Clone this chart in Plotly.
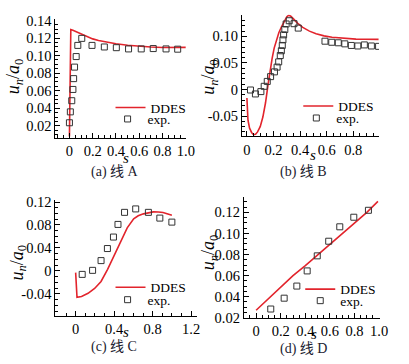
import plotly.graph_objects as go

# ---------------- data ----------------
# Panel (a)
a_ddes_s = [0, 0.004, 0.008, 0.012, 0.03, 0.06, 0.1, 0.15, 0.2, 0.25, 0.3, 0.4, 0.5, 0.6, 0.7, 0.8, 0.9, 1.0]
a_ddes_u = [0.008, 0.07, 0.126, 0.1295, 0.1288, 0.127, 0.1245, 0.1215, 0.119, 0.1172, 0.1158, 0.1135, 0.1118, 0.1105, 0.1097, 0.1092, 0.109, 0.1093]
a_exp_s = [0.0, 0.008, 0.02, 0.03, 0.036, 0.044, 0.058, 0.072, 0.106, 0.194, 0.30, 0.403, 0.508, 0.617, 0.72, 0.83, 0.93]
a_exp_u = [0.0236, 0.036, 0.0487, 0.0615, 0.0738, 0.0869, 0.0989, 0.1116, 0.1196, 0.1116, 0.1098, 0.109, 0.1076, 0.1076, 0.108, 0.1076, 0.1073]

# Panel (b)
b_ddes_s = [0, 0.003, 0.008, 0.02, 0.035, 0.05, 0.065, 0.08, 0.10, 0.12, 0.14, 0.16, 0.175, 0.19, 0.205, 0.22, 0.24, 0.26, 0.28, 0.30, 0.315, 0.33, 0.35, 0.38, 0.42, 0.47, 0.52, 0.58, 0.64, 0.70, 0.76, 0.82, 0.88, 0.94, 0.99]
b_ddes_u = [-0.016, -0.042, -0.058, -0.073, -0.081, -0.085, -0.0845, -0.080, -0.070, -0.052, -0.025, 0.011, 0.037, 0.059, 0.078, 0.092, 0.107, 0.118, 0.129, 0.137, 0.140, 0.138, 0.133, 0.125, 0.117, 0.110, 0.105, 0.101, 0.0985, 0.097, 0.0958, 0.095, 0.0948, 0.0946, 0.0945]
b_exp_s = [0.027, 0.064, 0.105, 0.13, 0.153, 0.178, 0.207, 0.227, 0.239, 0.251, 0.259, 0.266, 0.271, 0.276, 0.285, 0.295, 0.318, 0.354, 0.386, 0.587, 0.638, 0.687, 0.736, 0.785, 0.834, 0.883, 0.936, 0.99]
b_exp_u = [-0.001, -0.0084, -0.004, 0.006, 0.0152, 0.0242, 0.0332, 0.0422, 0.052, 0.064, 0.073, 0.083, 0.0935, 0.103, 0.113, 0.1235, 0.1296, 0.124, 0.1157, 0.091, 0.089, 0.088, 0.086, 0.083, 0.082, 0.084, 0.082, 0.0813]

# Panel (c)
c_ddes_s = [0, 0.005, 0.014, 0.061, 0.129, 0.197, 0.264, 0.332, 0.4, 0.468, 0.536, 0.603, 0.65, 0.705, 0.76, 0.807, 0.86, 0.908, 0.95, 1.0]
c_ddes_u = [-0.003, -0.03, -0.046, -0.0444, -0.039, -0.0306, -0.0183, 0.0028, 0.0278, 0.0528, 0.075, 0.0906, 0.096, 0.0994, 0.1018, 0.1028, 0.1025, 0.1017, 0.0995, 0.097]
c_exp_s = [0.068, 0.176, 0.264, 0.33, 0.393, 0.44, 0.508, 0.624, 0.756, 0.875, 1.0]
c_exp_u = [-0.006, 0.001, 0.018, 0.039, 0.059, 0.081, 0.102, 0.108, 0.102, 0.092, 0.085]

# Panel (d)
d_ddes_s = [0, 0.1, 0.2, 0.3, 0.4, 0.5, 0.6, 0.7, 0.8, 0.9, 0.99]
d_ddes_u = [0.027, 0.0378, 0.0495, 0.06, 0.0695, 0.0795, 0.0895, 0.0995, 0.1098, 0.12, 0.1305]
d_exp_s = [0.119, 0.228, 0.331, 0.415, 0.497, 0.59, 0.68, 0.794, 0.913]
d_exp_u = [0.0282, 0.0385, 0.05, 0.0644, 0.0787, 0.0926, 0.1063, 0.1154, 0.122]

# tick labels
a_xtick_vals = [0, 0.2, 0.4, 0.6, 0.8, 1.0]
a_xtick_text = ["0", "0.2", "0.4", "0.6", "0.8", "1.0"]
a_ytick_vals = [0.02, 0.04, 0.06, 0.08, 0.10, 0.12, 0.14]
a_ytick_text = ["0.02", "0.04", "0.06", "0.08", "0.10", "0.12", "0.14"]
b_xtick_vals = [0, 0.2, 0.4, 0.6, 0.8]
b_xtick_text = ["0", "0.2", "0.4", "0.6", "0.8"]
b_ytick_vals = [-0.05, 0, 0.05, 0.10]
b_ytick_text = ["-0.05", "0", "0.05", "0.10"]
c_xtick_vals = [0, 0.4, 0.8, 1.2]
c_xtick_text = ["0", "0.4", "0.8", "1.2"]
c_ytick_vals = [-0.04, 0, 0.04, 0.08, 0.12]
c_ytick_text = ["-0.04", "0", "0.04", "0.08", "0.12"]
d_xtick_vals = [0, 0.2, 0.4, 0.6, 0.8, 1.0]
d_xtick_text = ["0", "0.2", "0.4", "0.6", "0.8", "1.0"]
d_ytick_vals = [0.02, 0.04, 0.06, 0.08, 0.10, 0.12]
d_ytick_text = ["0.02", "0.04", "0.06", "0.08", "0.10", "0.12"]

captions = ["(a) 线 A", "(b) 线 B", "(c) 线 C", "(d) 线 D"]
series_names = ["DDES", "exp."]

# ---------------- styling / layout ----------------
W, H = 409, 364
SERIF = "Liberation Serif, Times New Roman, serif"
CAP_FONT = "Liberation Serif, Noto Sans CJK SC, serif"
RED = "#e2242c"
TICK_SIZE = 14.5

def px_x(p):
    return p / W

def px_y(p):
    return 1 - p / H

panels = [
    dict(ds=a_ddes_s, du=a_ddes_u, es=a_exp_s, eu=a_exp_u,
         xdom=(56.7, 190), ydom=(13, 136.7), xr=(-0.12, 1.0), yr=(0.0062, 0.1411),
         xtv=a_xtick_vals, xtt=a_xtick_text, ytv=a_ytick_vals, ytt=a_ytick_text,
         xminor=0.05, yminor=0.005,
         leg1=(113, 105), leg2=(110, 117),
         ytitle=(14.5, 72), stitle=(129, 157), cap=(118, 172)),
    dict(ds=b_ddes_s, du=b_ddes_u, es=b_exp_s, eu=b_exp_u,
         xdom=(247.3, 387.5), ydom=(8, 135), xr=(-0.038, 0.993), yr=(-0.0885, 0.141),
         xtv=b_xtick_vals, xtt=b_xtick_text, ytv=b_ytick_vals, ytt=b_ytick_text,
         xminor=0.05, yminor=0.01,
         leg1=(305, 103.5), leg2=(303, 116),
         ytitle=(214.5, 73), stitle=(320, 154), cap=(310, 172)),
    dict(ds=c_ddes_s, du=c_ddes_u, es=c_exp_s, eu=c_exp_u,
         xdom=(56.7, 201.7), ydom=(201, 322.3), xr=(-0.21, 1.264), yr=(-0.0785, 0.124),
         xtv=c_xtick_vals, xtt=c_xtick_text, ytv=c_ytick_vals, ytt=c_ytick_text,
         xminor=0.1, yminor=0.01,
         leg1=(113, 292.5), leg2=(110, 305.5),
         ytitle=(19, 267), stitle=(129, 339), cap=(117, 355)),
    dict(ds=d_ddes_s, du=d_ddes_u, es=d_exp_s, eu=d_exp_u,
         xdom=(249.3, 388.3), ydom=(198.3, 324), xr=(-0.1, 1.005), yr=(0.02, 0.1345),
         xtv=d_xtick_vals, xtt=d_xtick_text, ytv=d_ytick_vals, ytt=d_ytick_text,
         xminor=0.05, yminor=0.005,
         leg1=(307, 294.5), leg2=(307, 306.5),
         ytitle=(214.5, 256), stitle=(321, 341), cap=(310, 357)),
]

fig = go.Figure()
layout = dict(
    width=W, height=H, autosize=False,
    margin=dict(l=0, r=0, t=0, b=0, pad=0),
    paper_bgcolor="white", plot_bgcolor="white",
    font=dict(family=SERIF, size=13.5, color="black"),
    annotations=[],
)

for i, p in enumerate(panels):
    k = "" if i == 0 else str(i + 1)
    xa, ya = "x" + k, "y" + k
    lg1 = "legend" if i == 0 else "legend" + str(2 * i + 1)
    lg2 = "legend" + str(2 * i + 2)
    fig.add_trace(go.Scatter(x=p["ds"], y=p["du"], mode="lines", name=series_names[0],
                             line=dict(color=RED, width=1.6), xaxis=xa, yaxis=ya,
                             legend=lg1, showlegend=True))
    fig.add_trace(go.Scatter(x=p["es"], y=p["eu"], mode="markers", name=series_names[1],
                             marker=dict(symbol="square-open", size=6, color="#333333",
                                         line=dict(width=1, color="#333333")),
                             xaxis=xa, yaxis=ya, legend=lg2, showlegend=True))
    axis_common = dict(showline=True, linecolor="black", linewidth=1, mirror=False,
                       showgrid=False, zeroline=False, ticks="inside", ticklen=5,
                       tickcolor="black", tickwidth=1,
                       tickfont=dict(family=SERIF, size=TICK_SIZE, color="black"))
    layout["xaxis" + k] = dict(axis_common, domain=[px_x(p["xdom"][0]), px_x(p["xdom"][1])],
                               range=list(p["xr"]), anchor=ya, tickmode="array",
                               tickvals=p["xtv"], ticktext=p["xtt"],
                               minor=dict(ticks="inside", ticklen=3, tickcolor="black",
                                          dtick=p["xminor"], tick0=0, showgrid=False))
    layout["yaxis" + k] = dict(axis_common, domain=[px_y(p["ydom"][1]), px_y(p["ydom"][0])],
                               range=list(p["yr"]), anchor=xa, tickmode="array",
                               tickvals=p["ytv"], ticktext=p["ytt"],
                               minor=dict(ticks="inside", ticklen=3, tickcolor="black",
                                          dtick=p["yminor"], tick0=0, showgrid=False))
    leg_common = dict(xanchor="left", yanchor="middle", bgcolor="rgba(0,0,0,0)",
                      borderwidth=0, itemwidth=30,
                      font=dict(family=SERIF, size=13.5, color="black"))
    layout[lg1] = dict(leg_common, x=px_x(p["leg1"][0]), y=px_y(p["leg1"][1]))
    layout[lg2] = dict(leg_common, x=px_x(p["leg2"][0]), y=px_y(p["leg2"][1]))
    layout["annotations"].append(dict(
        text="<i>u</i><sub><i>n</i></sub>/<i>a</i><sub>0</sub>", textangle=-90,
        x=px_x(p["ytitle"][0]), y=px_y(p["ytitle"][1]), xref="paper", yref="paper",
        xanchor="center", yanchor="middle", showarrow=False,
        font=dict(family=SERIF, size=18, color="black")))
    layout["annotations"].append(dict(
        text="<i>s</i>", x=px_x(p["stitle"][0]), y=px_y(p["stitle"][1]),
        xref="paper", yref="paper", xanchor="center", yanchor="middle", showarrow=False,
        font=dict(family=SERIF, size=15, color="black")))
    layout["annotations"].append(dict(
        text=captions[i], x=px_x(p["cap"][0]), y=px_y(p["cap"][1]),
        xref="paper", yref="paper", xanchor="center", yanchor="middle", showarrow=False,
        font=dict(family=CAP_FONT, size=14, color="#1c1c30")))

fig.update_layout(**layout)
fig.write_html("out.html", config={"displayModeBar": False},
               post_script="document.body.style.margin='0';")
